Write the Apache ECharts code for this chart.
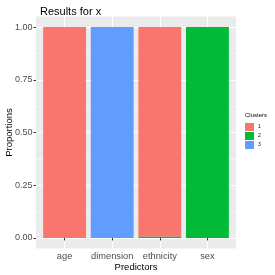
<!DOCTYPE html>
<html>
<head>
<meta charset="utf-8">
<script src="https://cdn.jsdelivr.net/npm/echarts@6/dist/echarts.min.js"></script>
<style>html,body{margin:0;padding:0;background:#fff}#c{width:275px;height:275px}</style>
</head>
<body>
<div id="c"></div>
<script>
var categories = ['age', 'dimension', 'ethnicity', 'sex'];
var clusters = ['1', '2', '3'];
var cluster1 = [1, 0, 0.993, 0];
var cluster2 = [0, 0, 0.007, 1];
var cluster3 = [0, 1, 0, 0];
var yTicks = [0, 0.25, 0.5, 0.75, 1];
var yMinor = [0.125, 0.375, 0.625, 0.875];
var xPositions = [1, 2, 3, 4];
var colors = {'1': '#F8766D', '2': '#00BA38', '3': '#619CFF'};

var font = 'Liberation Sans, Arial, sans-serif';
var seriesData = {'1': cluster1, '2': cluster2, '3': cluster3};
var order = ['3', '2', '1'];
var series = order.map(function (k) {
  return {
    name: k, type: 'bar', stack: 'all', barWidth: '90%',
    xAxisIndex: 1, yAxisIndex: 2,
    itemStyle: { color: colors[k] },
    data: seriesData[k],
    silent: true
  };
});

var panelLeft = 36, panelWidth = 200, panelTop = 16.5, panelBottom = 26.5;
var unit = panelWidth / 4.2;
var barLeft = panelLeft + 0.1 * unit;
var barWidthAll = 4 * unit;

var chart = echarts.init(document.getElementById('c'), null, { renderer: 'canvas' });
chart.setOption({
  animation: false,
  textStyle: { fontFamily: font },
  title: {
    text: 'Results for x', left: 35, top: 1,
    textStyle: { fontSize: 11, fontWeight: 'normal', color: '#000', fontFamily: font }
  },
  grid: [{
    left: panelLeft, width: panelWidth, top: panelTop, bottom: panelBottom,
    containLabel: false, outerBoundsMode: 'none',
    show: true, backgroundColor: '#EBEBEB', borderWidth: 0
  }, {
    left: barLeft, width: barWidthAll, top: panelTop, bottom: panelBottom,
    containLabel: false, outerBoundsMode: 'none', show: false
  }],
  legend: {
    data: clusters, orient: 'vertical', left: 245, top: 123,
    itemWidth: 9, itemHeight: 8, itemGap: 1, icon: 'rect',
    textStyle: { fontSize: 5, color: '#000', fontFamily: font, padding: [0, 0, 0, -1] },
    selectedMode: false, padding: 0
  },
  graphic: [{
    type: 'text', left: 245, top: 112,
    style: { text: 'Clusters', fontSize: 6, fill: '#000', fontFamily: font }
  }],
  xAxis: [{
    gridIndex: 0, type: 'value', min: 0.4, max: 4.6,
    name: 'Predictors', nameLocation: 'middle', nameGap: 14, nameMoveOverlap: false,
    nameTextStyle: { fontSize: 9.5, color: '#000', fontFamily: font },
    axisLine: { show: false },
    axisTick: { show: true, length: 2.5, lineStyle: { color: '#333' }, customValues: xPositions },
    axisLabel: {
      color: '#4D4D4D', fontSize: 9.3, margin: 3.5, fontFamily: font,
      customValues: xPositions,
      formatter: function (v) { return categories[Math.round(v) - 1] || ''; }
    },
    splitLine: { show: true, lineStyle: { color: '#fff', width: 1 } }
  }, {
    gridIndex: 1, type: 'category', data: categories,
    axisLine: { show: false }, axisTick: { show: false }, axisLabel: { show: false },
    splitLine: { show: false }
  }],
  yAxis: [{
    gridIndex: 0, type: 'value', min: -0.05, max: 1.05,
    name: 'Proportions', nameLocation: 'middle', nameGap: 22, nameMoveOverlap: false,
    nameTextStyle: { fontSize: 9.5, color: '#000', fontFamily: font },
    axisLine: { show: false },
    axisTick: { show: true, length: 2.5, lineStyle: { color: '#333' }, customValues: yTicks },
    axisLabel: {
      color: '#4D4D4D', fontSize: 9, margin: 3.5, fontFamily: font,
      customValues: yTicks,
      formatter: function (v) { return v.toFixed(2); }
    },
    splitLine: { show: true, lineStyle: { color: '#fff', width: 1 } }
  }, {
    gridIndex: 0, type: 'value', min: -0.05, max: 1.05, position: 'left',
    axisLine: { show: false }, axisLabel: { show: false },
    axisTick: { show: false, customValues: yMinor },
    splitLine: { show: true, lineStyle: { color: '#fff', width: 0.5 } }
  }, {
    gridIndex: 1, type: 'value', min: -0.05, max: 1.05,
    axisLine: { show: false }, axisLabel: { show: false }, axisTick: { show: false },
    splitLine: { show: false }
  }],
  series: series
});
</script>
</body>
</html>
